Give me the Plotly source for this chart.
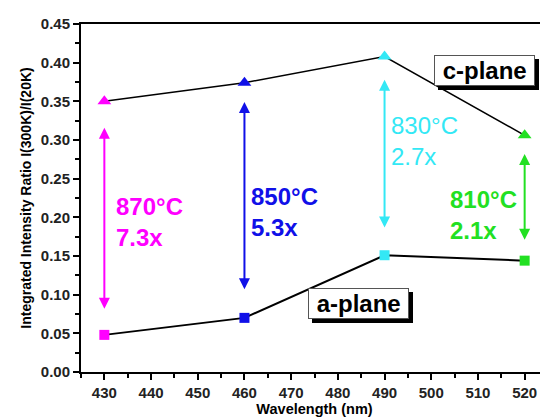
import plotly.graph_objects as go

wavelength = [430, 460, 490, 520]
c_plane = [0.350, 0.374, 0.408, 0.306]
a_plane = [0.048, 0.070, 0.151, 0.144]
colors = ["#FF00FF", "#1010E8", "#33E8F5", "#22E022"]
temps = ["870°C", "850°C", "830°C", "810°C"]
ratios = ["7.3x", "5.3x", "2.7x", "2.1x"]
arrow_top = [0.316, 0.349, 0.378, 0.282]
arrow_bot = [0.080, 0.105, 0.185, 0.169]
label_x = [432.0, 461.0, 490.9, 503.5]
label_y = [0.194, 0.207, 0.299, 0.203]
label_bold = [True, True, False, True]
box_labels = ["c-plane", "a-plane"]
box_x = [511.5, 484.4]
box_y = [0.390, 0.088]

font = "Liberation Sans, Arial, sans-serif"
fig = go.Figure()

fig.add_trace(go.Scatter(x=wavelength, y=c_plane, mode="lines+markers",
                         line=dict(color="black", width=1.5),
                         marker=dict(symbol="triangle-up", size=12, color=colors, line=dict(width=0)),
                         showlegend=False))
fig.add_trace(go.Scatter(x=wavelength, y=a_plane, mode="lines+markers",
                         line=dict(color="black", width=2),
                         marker=dict(symbol="square", size=10, color=colors, line=dict(width=0)),
                         showlegend=False))

ann = []
for i in range(len(wavelength)):
    ann.append(dict(x=wavelength[i], y=arrow_top[i], ax=wavelength[i], ay=arrow_bot[i],
                    xref="x", yref="y", axref="x", ayref="y", text="", showarrow=True,
                    arrowhead=2, arrowside="end+start", arrowsize=1.1, arrowwidth=2,
                    arrowcolor=colors[i]))
    t = temps[i] + "<br>" + ratios[i]
    if label_bold[i]:
        t = "<b>" + temps[i] + "</b><br><b>" + ratios[i] + "</b>"
    ann.append(dict(x=label_x[i], y=label_y[i], xref="x", yref="y", text=t, showarrow=False,
                    xanchor="left", yanchor="middle", align="left",
                    font=dict(family=font, size=24, color=colors[i])))

for name, cx, cy in zip(box_labels, box_x, box_y):
    txt = "&nbsp;<b>%s</b>&nbsp;" % name
    ann.append(dict(x=cx, y=cy, xref="x", yref="y", text=txt, showarrow=False,
                    xshift=4, yshift=-4, bgcolor="black", bordercolor="black", borderwidth=1, borderpad=1,
                    font=dict(family=font, size=24, color="black")))
    ann.append(dict(x=cx, y=cy, xref="x", yref="y", text=txt, showarrow=False,
                    bgcolor="white", bordercolor="#555", borderwidth=1, borderpad=1,
                    font=dict(family=font, size=24, color="black")))

# page body has an 8px default margin, so the figure is 8px smaller than the window
fig.update_layout(
    width=540, height=410, autosize=False,
    margin=dict(l=73, r=0, t=16, b=46),
    plot_bgcolor="white", paper_bgcolor="white",
    annotations=ann,
    font=dict(family=font, color="black"),
)
fig.update_xaxes(range=[425, 525], tickvals=list(range(430, 521, 10)), showgrid=False, zeroline=False,
                 automargin=False,
                 showline=True, linecolor="black", linewidth=2, mirror=True,
                 ticks="outside", ticklen=6, tickwidth=2, tickcolor="black",
                 minor=dict(dtick=5, tick0=425, ticks="outside", ticklen=4, tickwidth=2, tickcolor="black"),
                 tickfont=dict(family=font, size=15, color="#222", weight="bold"),
                 title=dict(text="<b>Wavelength (nm)</b>", font=dict(family=font, size=14.5), standoff=0))
fig.update_yaxes(range=[0, 0.45], tickvals=[0, 0.05, 0.10, 0.15, 0.20, 0.25, 0.30, 0.35, 0.40, 0.45],
                 ticktext=["0.00", "0.05", "0.10", "0.15", "0.20", "0.25", "0.30", "0.35", "0.40", "0.45"],
                 showgrid=False, zeroline=False, automargin=False,
                 showline=True, linecolor="black", linewidth=2,
                 ticks="outside", ticklen=6, tickwidth=2, tickcolor="black",
                 minor=dict(dtick=0.025, ticks="outside", ticklen=4, tickwidth=2, tickcolor="black"),
                 tickfont=dict(family=font, size=15, color="#222", weight="bold"),
                 title=dict(text="<b>Integrated Intensity Ratio I(300K)/I(20K)</b>",
                            font=dict(family=font, size=14), standoff=6))
fig.write_html("out.html")
